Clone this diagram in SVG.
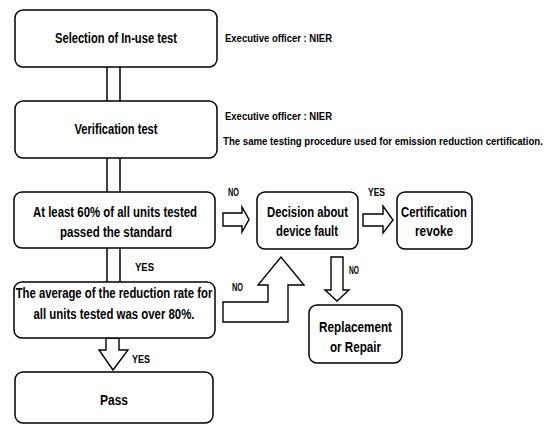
<svg xmlns="http://www.w3.org/2000/svg" width="551" height="425" viewBox="0 0 551 425">
<style>
.box{fill:#fff;stroke:#000;stroke-width:1.5}
.t{font-family:"Liberation Sans Narrow","Liberation Sans",Arial,sans-serif;font-weight:bold;font-size:14.5px;fill:#000;text-anchor:middle}
.s{font-family:"Liberation Sans Narrow","Liberation Sans",Arial,sans-serif;font-weight:bold;font-size:11.5px;fill:#000}
.l{font-family:"Liberation Sans Narrow","Liberation Sans",Arial,sans-serif;font-weight:bold;font-size:11px;fill:#000}
.ar{fill:#fff;stroke:#000;stroke-width:1.4;stroke-linejoin:miter}
.ln{stroke:#000;stroke-width:1.5;fill:none}
</style>
<rect width="551" height="425" fill="#fff"/>
<g id="connectors">
<line class="ln" x1="107" y1="67" x2="107" y2="101"/><line class="ln" x1="120" y1="67" x2="120" y2="101"/>
<line class="ln" x1="107" y1="158" x2="107" y2="192"/><line class="ln" x1="120" y1="158" x2="120" y2="192"/>
<line class="ln" x1="107" y1="248" x2="107" y2="282"/><line class="ln" x1="120" y1="248" x2="120" y2="282"/>
<polygon class="ar" points="223,213 242,213 242,207 249,219.5 242,232 242,226 223,226"/>
<polygon class="ar" points="363,214 383,214 383,206 393,220 383,233 383,226 363,226"/>
<polygon class="ar" points="331,257 343,257 343,290 349,290 337,301 325,290 331,290"/>
<polygon class="ar" points="223,302 268,302 268,285 258,285 281,257 304,285 288,285 288,322 223,322"/>
<polygon class="ar" points="106,338 119,338 119,350 128,350 113,370 99,350 106,350"/>
<text class="l" x="228" y="196" textLength="11" lengthAdjust="spacingAndGlyphs">NO</text>
<text class="l" x="368" y="196" textLength="17" lengthAdjust="spacingAndGlyphs">YES</text>
<text class="l" x="135" y="271" textLength="19" lengthAdjust="spacingAndGlyphs">YES</text>
<text class="l" x="349" y="274" textLength="10" lengthAdjust="spacingAndGlyphs">NO</text>
<text class="l" x="232" y="291" textLength="11" lengthAdjust="spacingAndGlyphs">NO</text>
<text class="l" x="132" y="363" textLength="18" lengthAdjust="spacingAndGlyphs">YES</text>
</g>
<g id="n1"><rect class="box" x="15" y="10" width="202" height="57" rx="8"/>
<text class="t" x="116" y="43" textLength="122" lengthAdjust="spacingAndGlyphs">Selection of In-use test</text></g>
<g id="n2"><rect class="box" x="15" y="101" width="202" height="57" rx="8"/>
<text class="t" x="116" y="134" textLength="83" lengthAdjust="spacingAndGlyphs">Verification test</text></g>
<g id="n3"><rect class="box" x="14" y="192" width="201" height="56" rx="8"/>
<text class="t" x="115" y="217" textLength="164" lengthAdjust="spacingAndGlyphs">At least 60% of all units tested</text>
<text class="t" x="116" y="237" textLength="112" lengthAdjust="spacingAndGlyphs">passed the standard</text></g>
<g id="n4"><rect class="box" x="14" y="282" width="201" height="56" rx="8"/>
<text class="t" transform="translate(114,298) scale(0.7,1)" x="0" y="0" textLength="281" lengthAdjust="spacingAndGlyphs">The average of the reduction rate for</text>
<text class="t" x="114" y="319" textLength="161" lengthAdjust="spacingAndGlyphs">all units tested was over 80%.</text></g>
<g id="n5"><rect class="box" x="15" y="372" width="198" height="51" rx="8"/>
<text class="t" x="114" y="405" textLength="28" lengthAdjust="spacingAndGlyphs">Pass</text></g>
<g id="n6"><rect class="box" x="257" y="192" width="101" height="57" rx="8"/>
<text class="t" x="307.5" y="217" textLength="81" lengthAdjust="spacingAndGlyphs">Decision about</text>
<text class="t" x="307" y="236" textLength="62" lengthAdjust="spacingAndGlyphs">device fault</text></g>
<g id="n7"><rect class="box" x="397" y="192" width="75" height="57" rx="8"/>
<text class="t" x="434" y="217" textLength="66" lengthAdjust="spacingAndGlyphs">Certification</text>
<text class="t" x="434" y="236" textLength="38" lengthAdjust="spacingAndGlyphs">revoke</text></g>
<g id="n8"><rect class="box" x="309" y="305" width="93" height="58" rx="8"/>
<text class="t" x="355.5" y="332" textLength="73" lengthAdjust="spacingAndGlyphs">Replacement</text>
<text class="t" x="355.5" y="352" textLength="51" lengthAdjust="spacingAndGlyphs">or Repair</text></g>
<g id="notes">
<text class="s" x="225" y="42" textLength="107" lengthAdjust="spacingAndGlyphs">Executive officer : NIER</text>
<text class="s" x="225" y="120" textLength="107" lengthAdjust="spacingAndGlyphs">Executive officer : NIER</text>
<text class="s" transform="translate(223,145) scale(0.7,1)" x="0" y="0" textLength="457" lengthAdjust="spacingAndGlyphs">The same testing procedure used for emission reduction certification.</text>
</g>
</svg>
